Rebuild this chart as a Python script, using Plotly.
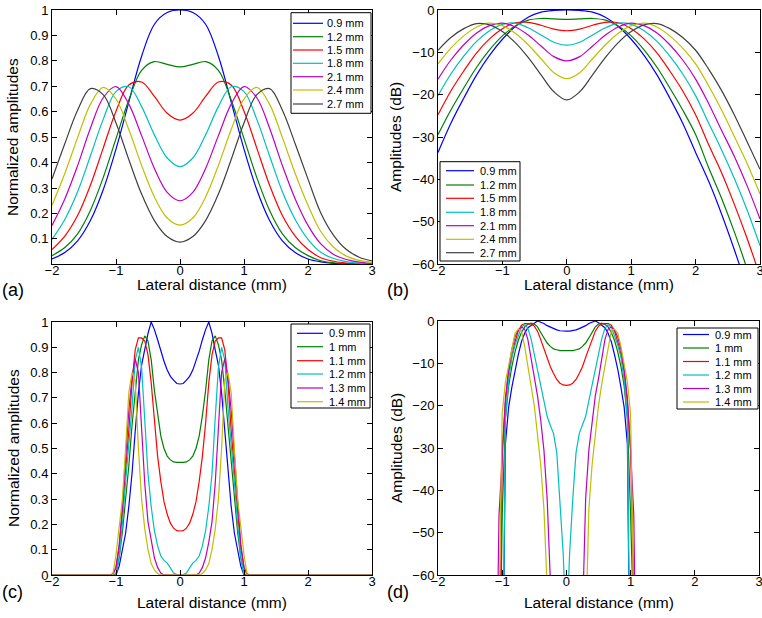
import plotly.graph_objects as go

W, H = 762, 618
FONT = "Liberation Sans, Arial, Helvetica, sans-serif"

# ---- panels (a) and (b): lateral profiles, 0.2 mm sampling ----
x_ab = [-2.0, -1.8, -1.6, -1.4, -1.2, -1.0, -0.8, -0.6, -0.4, -0.2, 0.0,
        0.2, 0.4, 0.6, 0.8, 1.0, 1.2, 1.4, 1.6, 1.8, 2.0, 2.2, 2.4, 2.6, 2.8, 3.0]

labels_ab = ["0.9 mm", "1.2 mm", "1.5 mm", "1.8 mm", "2.1 mm", "2.4 mm", "2.7 mm"]

amp_09 = [0.021, 0.046, 0.092, 0.172, 0.293, 0.453, 0.638, 0.818, 0.944, 0.990, 1.0,
          0.990, 0.944, 0.818, 0.638, 0.453, 0.293, 0.172, 0.092, 0.046, 0.021, 0.0097, 0.0040, 0.0015, 0.00053, 0.00017]
amp_12 = [0.034, 0.066, 0.120, 0.212, 0.341, 0.494, 0.646, 0.763, 0.797, 0.786, 0.776,
          0.786, 0.797, 0.763, 0.646, 0.494, 0.341, 0.212, 0.120, 0.066, 0.034, 0.0140, 0.0061, 0.0024, 0.00088, 0.00030]
amp_15 = [0.058, 0.111, 0.192, 0.311, 0.457, 0.602, 0.705, 0.717, 0.660, 0.594, 0.567,
          0.594, 0.660, 0.717, 0.705, 0.602, 0.457, 0.311, 0.192, 0.111, 0.058, 0.026, 0.0121, 0.0052, 0.0020, 0.00073]
amp_18 = [0.098, 0.176, 0.285, 0.426, 0.570, 0.679, 0.698, 0.620, 0.509, 0.418, 0.384,
          0.418, 0.509, 0.620, 0.698, 0.679, 0.570, 0.426, 0.285, 0.176, 0.098, 0.047, 0.0226, 0.0104, 0.0044, 0.0017]
amp_21 = [0.153, 0.257, 0.388, 0.535, 0.655, 0.699, 0.630, 0.506, 0.377, 0.283, 0.250,
          0.283, 0.377, 0.506, 0.630, 0.699, 0.655, 0.535, 0.388, 0.257, 0.153, 0.080, 0.0387, 0.0188, 0.0084, 0.0034]
amp_24 = [0.232, 0.357, 0.498, 0.629, 0.696, 0.650, 0.530, 0.389, 0.265, 0.182, 0.154,
          0.182, 0.265, 0.389, 0.530, 0.650, 0.696, 0.629, 0.498, 0.357, 0.232, 0.129, 0.0672, 0.0322, 0.0154, 0.0068]
amp_27 = [0.335, 0.474, 0.606, 0.691, 0.667, 0.556, 0.412, 0.276, 0.172, 0.109, 0.087,
          0.109, 0.172, 0.276, 0.412, 0.556, 0.667, 0.691, 0.606, 0.474, 0.335, 0.202, 0.114, 0.058, 0.028, 0.0132]

db_09 = [-33.6, -26.7, -20.8, -15.3, -10.7, -6.9, -3.9, -1.7, -0.5, -0.1, 0.0,
         -0.1, -0.5, -1.7, -3.9, -6.9, -10.7, -15.3, -20.8, -26.7, -33.6, -40.3, -48.0, -56.5, -65.6, -75.4]
db_12 = [-29.4, -23.6, -18.4, -13.5, -9.4, -6.1, -3.8, -2.4, -2.0, -2.1, -2.2,
         -2.1, -2.0, -2.4, -3.8, -6.1, -9.4, -13.5, -18.4, -23.6, -29.4, -37.1, -44.3, -52.3, -61.1, -70.5]
db_15 = [-24.7, -19.1, -14.4, -10.1, -6.8, -4.4, -3.0, -2.9, -3.6, -4.5, -4.9,
         -4.5, -3.6, -2.9, -3.0, -4.4, -6.8, -10.1, -14.4, -19.1, -24.7, -31.7, -38.3, -45.8, -53.9, -62.8]
db_18 = [-20.2, -15.1, -10.9, -7.4, -4.9, -3.4, -3.1, -4.2, -5.9, -7.6, -8.3,
         -7.6, -5.9, -4.2, -3.1, -3.4, -4.9, -7.4, -10.9, -15.1, -20.2, -26.6, -32.9, -39.7, -47.2, -55.6]
db_21 = [-16.3, -11.8, -8.2, -5.4, -3.7, -3.1, -4.0, -5.9, -8.5, -11.0, -12.0,
         -11.0, -8.5, -5.9, -4.0, -3.1, -3.7, -5.4, -8.2, -11.8, -16.3, -22.0, -28.3, -34.5, -41.5, -49.3]
db_24 = [-12.7, -9.0, -6.1, -4.0, -3.1, -3.7, -5.5, -8.2, -11.5, -14.8, -16.2,
         -14.8, -11.5, -8.2, -5.5, -3.7, -3.1, -4.0, -6.1, -9.0, -12.7, -17.8, -23.5, -29.8, -36.2, -43.4]
db_27 = [-9.5, -6.5, -4.4, -3.2, -3.5, -5.1, -7.7, -11.2, -15.3, -19.3, -21.2,
         -19.3, -15.3, -11.2, -7.7, -5.1, -3.5, -3.2, -4.4, -6.5, -9.5, -13.9, -18.9, -24.7, -31.1, -37.6]

# ---- panels (c) and (d): 0.05 mm sampling, zero outside |x| > 1.1 ----
x_cd = [-2.0, -1.1, -1.05, -1.0, -0.95, -0.9, -0.85, -0.8, -0.75, -0.7, -0.65, -0.6,
        -0.55, -0.5, -0.45, -0.4, -0.35, -0.3, -0.25, -0.2, -0.15, -0.1, -0.05, 0.0,
        0.05, 0.1, 0.15, 0.2, 0.25, 0.3, 0.35, 0.4, 0.45, 0.5, 0.55, 0.6, 0.65, 0.7,
        0.75, 0.8, 0.85, 0.9, 0.95, 1.0, 1.05, 1.1, 3.0]

labels_cd = ["0.9 mm", "1 mm", "1.1 mm", "1.2 mm", "1.3 mm", "1.4 mm"]

c_09 = [0, 0, 0, 0, 0.035, 0.095, 0.165, 0.27, 0.40, 0.567, 0.72, 0.83, 0.89, 0.955, 1.0, 0.97,
        0.93, 0.885, 0.845, 0.81, 0.785, 0.77, 0.757, 0.755, 0.757, 0.77, 0.785, 0.81, 0.845,
        0.885, 0.93, 0.97, 1.0, 0.955, 0.89, 0.83, 0.72, 0.567, 0.40, 0.27, 0.165, 0.095,
        0.035, 0, 0, 0, 0]
c_10 = [0, 0, 0, 0.005, 0.07, 0.17, 0.29, 0.43, 0.59, 0.73, 0.85, 0.91, 0.945, 0.925, 0.85, 0.73,
        0.63, 0.55, 0.50, 0.47, 0.455, 0.447, 0.445, 0.444, 0.445, 0.447, 0.455, 0.47, 0.50,
        0.55, 0.63, 0.73, 0.85, 0.925, 0.945, 0.91, 0.85, 0.73, 0.59, 0.43, 0.29, 0.17, 0.07,
        0.005, 0, 0, 0]
c_11 = [0, 0, 0, 0.03, 0.11, 0.25, 0.40, 0.57, 0.76, 0.89, 0.937, 0.937, 0.925, 0.87, 0.76, 0.60,
        0.47, 0.37, 0.29, 0.24, 0.205, 0.185, 0.175, 0.174, 0.175, 0.185, 0.205, 0.24, 0.29,
        0.37, 0.47, 0.60, 0.76, 0.87, 0.925, 0.937, 0.937, 0.89, 0.76, 0.57, 0.40, 0.25, 0.11,
        0.03, 0, 0, 0]
c_12 = [0, 0, 0, 0, 0.07, 0.20, 0.37, 0.52, 0.66, 0.85, 0.90, 0.82, 0.62, 0.40, 0.27, 0.175,
        0.115, 0.075, 0.058, 0.047, 0.028, 0.008, 0.0018, 0.0002, 0.0018, 0.008, 0.028, 0.047,
        0.058, 0.075, 0.115, 0.175, 0.27, 0.40, 0.62, 0.82, 0.90, 0.85, 0.66, 0.52, 0.37, 0.20,
        0.07, 0, 0, 0, 0]
c_13 = [0, 0, 0.005, 0.03, 0.12, 0.27, 0.46, 0.65, 0.78, 0.855, 0.80, 0.60, 0.36, 0.21, 0.13,
        0.068, 0.03, 0.008, 0.0003, 0, 0, 0, 0, 0, 0, 0, 0, 0, 0.0003, 0.008, 0.03, 0.068, 0.13,
        0.21, 0.36, 0.60, 0.80, 0.855, 0.78, 0.65, 0.46, 0.27, 0.12, 0.03, 0.005, 0, 0]
c_14 = [0, 0, 0.0003, 0.08, 0.19, 0.30, 0.50, 0.72, 0.80, 0.77, 0.50, 0.30, 0.18, 0.10, 0.045,
        0.02, 0.006, 0.0002, 0, 0, 0, 0, 0, 0, 0, 0, 0, 0, 0, 0.0002, 0.006, 0.02, 0.045, 0.10,
        0.18, 0.30, 0.50, 0.77, 0.80, 0.72, 0.50, 0.30, 0.19, 0.08, 0.0003, 0, 0]

# dB values; -100 stands for "no signal" (drawn off the bottom of the axis)
d_09 = [-100, -100, -100, -100, -29.1, -20.4, -15.7, -11.4, -8.0, -4.9, -2.9, -1.6, -1.0, -0.4,
        0.0, -0.3, -0.6, -1.1, -1.5, -1.8, -2.1, -2.3, -2.4, -2.4, -2.4, -2.3, -2.1, -1.8, -1.5,
        -1.1, -0.6, -0.3, 0.0, -0.4, -1.0, -1.6, -2.9, -4.9, -8.0, -11.4, -15.7, -20.4, -29.1,
        -100, -100, -100, -100]
d_10 = [-100, -100, -100, -46.0, -23.1, -15.4, -10.8, -7.3, -4.6, -2.7, -1.4, -0.8, -0.5, -0.7,
        -1.4, -2.7, -4.0, -5.2, -6.0, -6.6, -6.8, -7.0, -7.0, -7.05, -7.0, -7.0, -6.8, -6.6,
        -6.0, -5.2, -4.0, -2.7, -1.4, -0.7, -0.5, -0.8, -1.4, -2.7, -4.6, -7.3, -10.8, -15.4,
        -23.1, -46.0, -100, -100, -100]
d_11 = [-100, -100, -100, -30.5, -19.2, -12.0, -8.0, -4.9, -2.4, -1.0, -0.6, -0.6, -0.7, -1.2,
        -2.4, -4.4, -6.6, -8.6, -10.8, -12.4, -13.8, -14.7, -15.1, -15.2, -15.1, -14.7, -13.8,
        -12.4, -10.8, -8.6, -6.6, -4.4, -2.4, -1.2, -0.7, -0.6, -0.6, -1.0, -2.4, -4.9, -8.0,
        -12.0, -19.2, -30.5, -100, -100, -100]
d_12 = [-100, -100, -100, -100, -23.1, -14.0, -8.6, -5.7, -3.6, -1.4, -0.9, -1.7, -4.2, -8.0,
        -11.4, -15.1, -18.8, -22.5, -24.7, -26.6, -31.1, -41.9, -54.9, -74.0, -54.9, -41.9,
        -31.1, -26.6, -24.7, -22.5, -18.8, -15.1, -11.4, -8.0, -4.2, -1.7, -0.9, -1.4, -3.6,
        -5.7, -8.6, -14.0, -23.1, -100, -100, -100, -100]
d_13 = [-100, -100, -46.0, -30.5, -18.4, -11.4, -6.7, -3.7, -2.2, -1.4, -1.9, -4.4, -8.9, -13.6,
        -17.7, -23.4, -30.5, -41.9, -70.5, -100, -100, -100, -100, -100, -100, -100, -100, -100,
        -70.5, -41.9, -30.5, -23.4, -17.7, -13.6, -8.9, -4.4, -1.9, -1.4, -2.2, -3.7, -6.7,
        -11.4, -18.4, -30.5, -46.0, -100, -100]
d_14 = [-100, -100, -70.5, -21.9, -14.4, -10.5, -6.0, -2.9, -1.9, -2.3, -6.0, -10.5, -14.9, -20.0,
        -26.9, -34.0, -44.4, -74.0, -100, -100, -100, -100, -100, -100, -100, -100, -100, -100,
        -100, -74.0, -44.4, -34.0, -26.9, -20.0, -14.9, -10.5, -6.0, -2.3, -1.9, -2.9, -6.0,
        -10.5, -14.4, -21.9, -70.5, -100, -100]

colors = ["#0000ff", "#008000", "#ff0000", "#00bfbf", "#bf00bf", "#bfbf00", "#404040"]


def px(x):
    return x / W


def py(y):
    return 1 - y / H


fig = go.Figure()

panels = [
    ("x", "y", x_ab, [amp_09, amp_12, amp_15, amp_18, amp_21, amp_24, amp_27], "spline"),
    ("x2", "y2", x_ab, [db_09, db_12, db_15, db_18, db_21, db_24, db_27], "spline"),
    ("x3", "y3", x_cd, [c_09, c_10, c_11, c_12, c_13, c_14], "linear"),
    ("x4", "y4", x_cd, [d_09, d_10, d_11, d_12, d_13, d_14], "linear"),
]
for xa, ya, xs, series, shape in panels:
    for i, ys in enumerate(series):
        fig.add_trace(go.Scatter(
            x=xs, y=ys, mode="lines", xaxis=xa, yaxis=ya, showlegend=False,
            line=dict(color=colors[i], width=1.2, shape=shape),
            hoverinfo="skip",
        ))

tickfont = dict(family=FONT, size=13, color="black")
common = dict(
    ticks="inside", ticklen=5, tickcolor="black", showline=True, linecolor="black",
    linewidth=1, mirror="ticks", showgrid=False, zeroline=False, tickfont=tickfont,
    automargin=False, ticklabeloverflow="allow",
)
xticks = dict(range=[-2, 3], tickvals=[-2, -1, 0, 1, 2, 3], ticklabelstandoff=-6, **common)
amp_ticks = [0.1, 0.2, 0.3, 0.4, 0.5, 0.6, 0.7, 0.8, 0.9, 1]
amp_text = ["0.1", "0.2", "0.3", "0.4", "0.5", "0.6", "0.7", "0.8", "0.9", "1"]
db_ticks = [-60, -50, -40, -30, -20, -10, 0]

dom_left = [px(52), px(372)]
dom_right = [px(438), px(760)]
dom_top = [py(264.3), py(10)]
dom_bot = [py(575), py(322)]

fig.update_layout(
    template="none",
    width=W, height=H, margin=dict(l=0, r=0, t=0, b=0),
    paper_bgcolor="white", plot_bgcolor="white",
    font=dict(family=FONT, color="black"),
    xaxis=dict(domain=dom_left, anchor="y", **xticks),
    yaxis=dict(domain=dom_top, anchor="x", range=[0, 1], tickvals=amp_ticks, ticktext=amp_text, **common),
    xaxis2=dict(domain=dom_right, anchor="y2", **xticks),
    yaxis2=dict(domain=dom_top, anchor="x2", range=[-60, 0], tickvals=db_ticks, **common),
    xaxis3=dict(domain=dom_left, anchor="y3", **xticks),
    yaxis3=dict(domain=dom_bot, anchor="x3", range=[0, 1], tickvals=[0] + amp_ticks,
                ticktext=["0"] + amp_text, **common),
    xaxis4=dict(domain=[px(438), px(759)], anchor="y4", **xticks),
    yaxis4=dict(domain=[py(575), py(321)], anchor="x4", range=[-60, 0], tickvals=db_ticks, **common),
)

annotations = []
shapes = []

# axis titles and panel tags
title_font = dict(family=FONT, size=15.5, color="black")
for cx, cy in [(212, 284), (599, 284), (212, 602), (599, 602)]:
    annotations.append(dict(text="Lateral distance (mm)", x=px(cx), y=py(cy), xref="paper", yref="paper",
                            showarrow=False, font=title_font, xanchor="center", yanchor="middle"))
for text, cx, cy in [("Normalized amplitudes", 13, 137), ("Amplitudes (dB)", 396, 137),
                     ("Normalized amplitudes", 13, 448), ("Amplitudes (dB)", 396, 448)]:
    annotations.append(dict(text=text, x=px(cx), y=py(cy), xref="paper", yref="paper", textangle=-90,
                            showarrow=False, font=title_font, xanchor="center", yanchor="middle"))
for text, lx, cy in [("(a)", 0, 290), ("(b)", 385, 290), ("(c)", 0, 592), ("(d)", 385, 592)]:
    annotations.append(dict(text=text, x=px(lx), y=py(cy), xref="paper", yref="paper", showarrow=False,
                            font=dict(family=FONT, size=18, color="black"), xanchor="left", yanchor="middle"))


# legends drawn as boxed keys
def add_key(box, ys, line_x, text_x, labels):
    x0, y0, x1, y1 = box
    shapes.append(dict(type="rect", xref="paper", yref="paper", x0=px(x0), x1=px(x1), y0=py(y1), y1=py(y0),
                       line=dict(color="black", width=1), fillcolor="white", layer="above"))
    for i, lab in enumerate(labels):
        shapes.append(dict(type="line", xref="paper", yref="paper", x0=px(line_x[0]), x1=px(line_x[1]),
                           y0=py(ys[i]), y1=py(ys[i]), line=dict(color=colors[i], width=1.2), layer="above"))
        annotations.append(dict(text=lab, x=px(text_x), y=py(ys[i]), xref="paper", yref="paper", showarrow=False,
                                font=dict(family=FONT, size=11, color="black"), xanchor="left", yanchor="middle"))


add_key((291, 12.7, 371, 113.3), [23.3, 36.7, 50, 63.3, 76.7, 90, 104], (293, 323), 325, labels_ab)
add_key((440, 161.7, 520, 261), [170.7, 185, 198.3, 212.3, 225.7, 239.3, 252.7], (446, 474), 478, labels_ab)
add_key((291, 324, 370, 408), [333.3, 346.7, 360.7, 374, 388, 401.7], (297, 323), 327, labels_cd)
add_key((677, 328, 758, 409), [334.5, 348, 361.5, 375, 388.5, 402], (683, 709), 713, labels_cd)

fig.update_layout(annotations=annotations, shapes=shapes)

# the page body would otherwise add an 8 px browser margin around the figure
fig.write_html("out.html", config={"displayModeBar": False},
               post_script="document.body.style.margin='0';")
